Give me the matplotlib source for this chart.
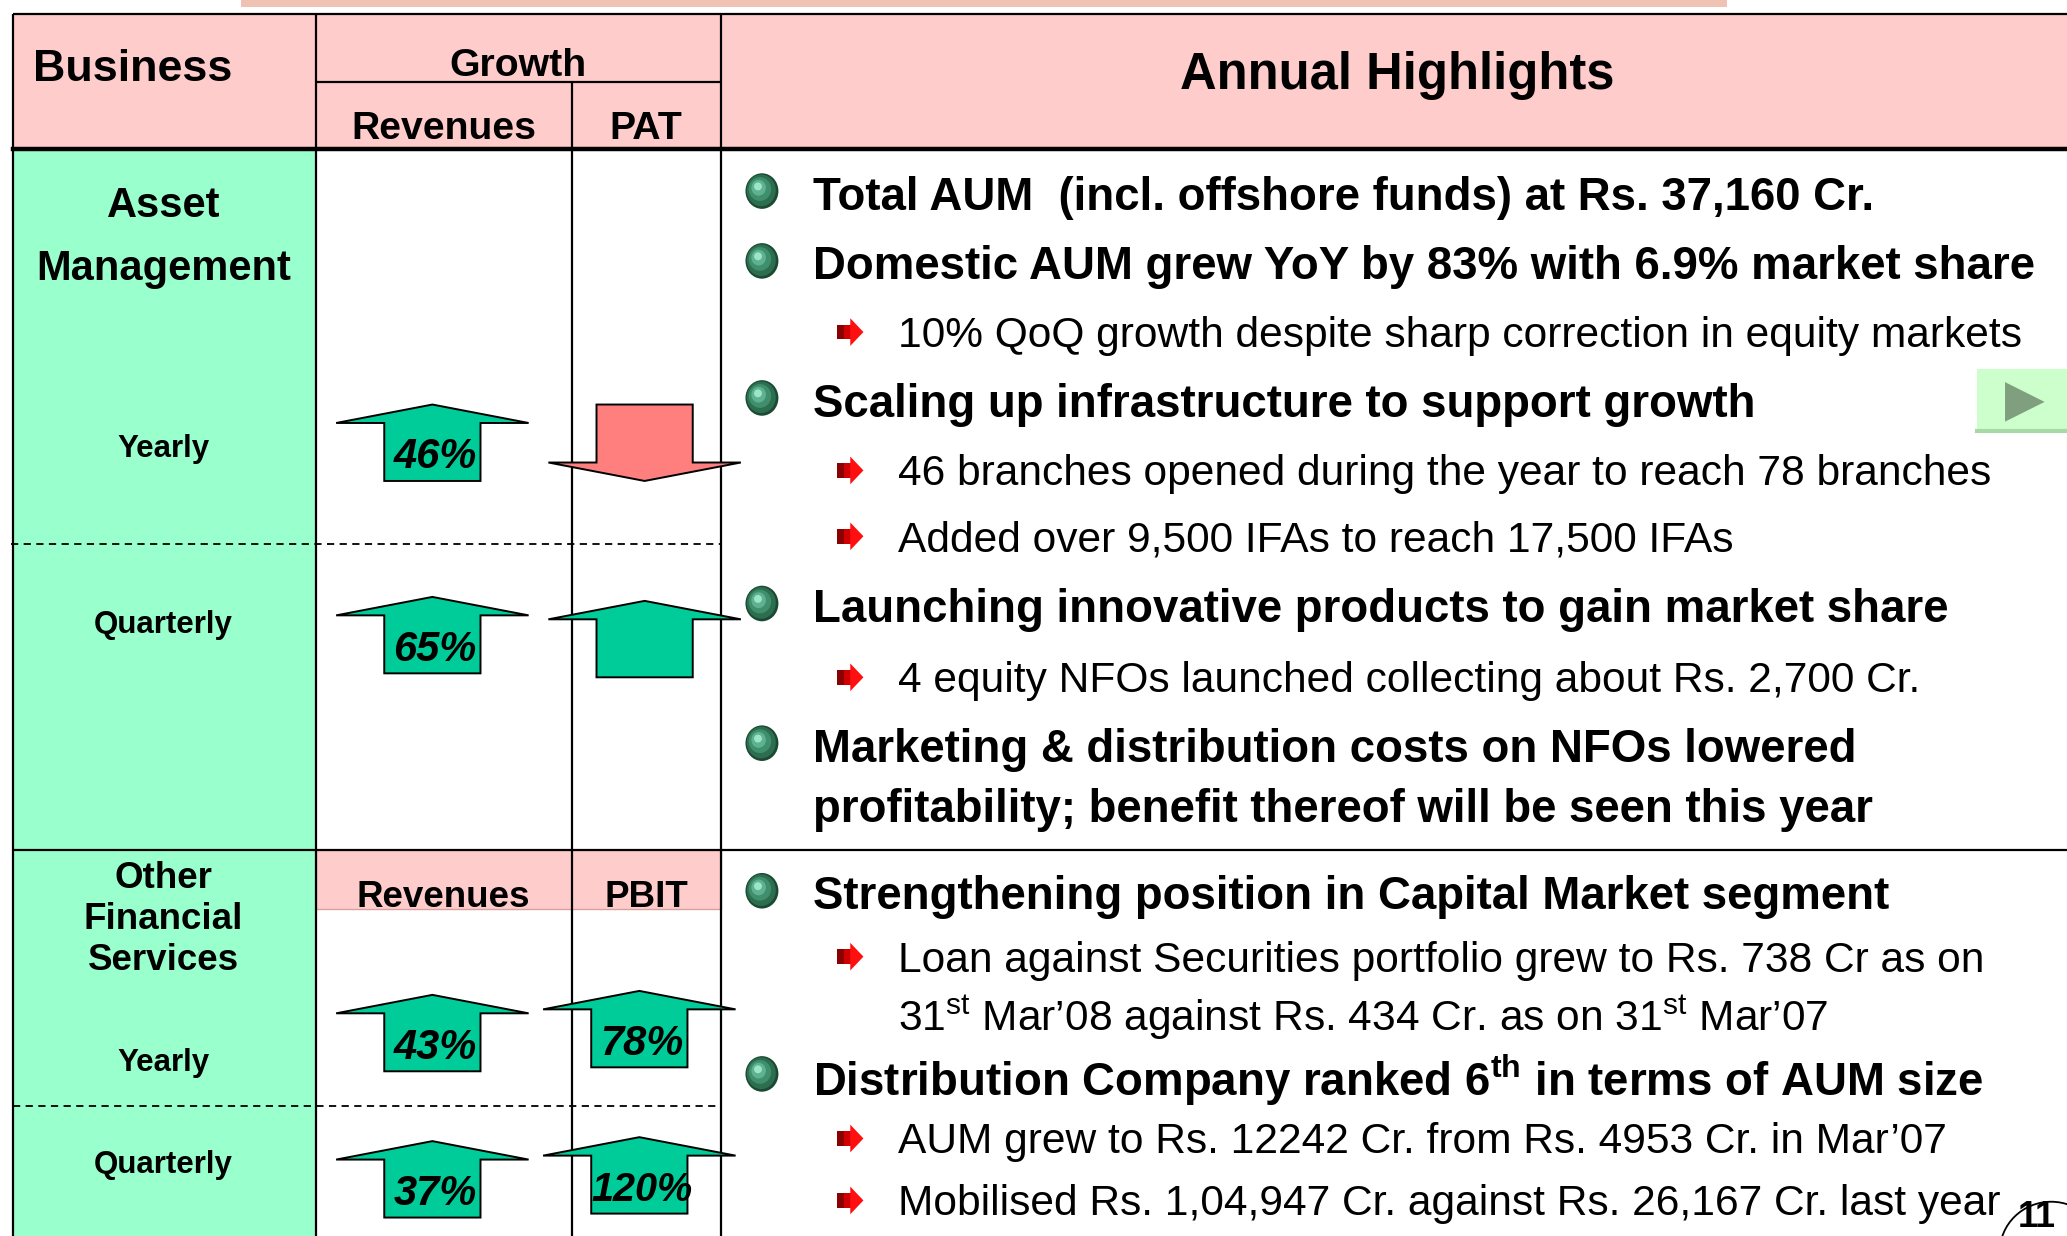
import matplotlib
matplotlib.use("Agg")
import matplotlib.pyplot as plt
from matplotlib.patches import Rectangle, Polygon, Ellipse

plt.rcParams['font.family'] = ['Liberation Sans', 'DejaVu Sans']
plt.rcParams['mathtext.fontset'] = 'custom'
plt.rcParams['mathtext.rm'] = 'Liberation Sans'
plt.rcParams['mathtext.bf'] = 'Liberation Sans:bold'
plt.rcParams['mathtext.it'] = 'Liberation Sans:italic'

# ---------------- data ----------------
segments = ["Asset\nManagement", "Other\nFinancial\nServices"]
periods = ["Yearly", "Quarterly"]
growth_headers = ["Revenues", "PAT"]
ofs_headers = ["Revenues", "PBIT"]
revenue_growth = ["46%", "65%", "43%", "37%"]
profit_growth = ["", "", "78%", "120%"]
profit_up = [False, True, True, True]

highlight_kind = ["b", "b", "s", "b", "s", "s", "b", "s", "b", "bc",
                  "b", "s", "sc", "b", "s", "s"]
highlight_text = [
    "Total AUM  (incl. offshore funds) at Rs. 37,160 Cr.",
    "Domestic AUM grew YoY by 83% with 6.9% market share",
    "10% QoQ growth despite sharp correction in equity markets",
    "Scaling up infrastructure to support growth",
    "46 branches opened during the year to reach 78 branches",
    "Added over 9,500 IFAs to reach 17,500 IFAs",
    "Launching innovative products to gain market share",
    "4 equity NFOs launched collecting about Rs. 2,700 Cr.",
    "Marketing & distribution costs on NFOs lowered",
    "profitability; benefit thereof will be seen this year",
    "Strengthening position in Capital Market segment",
    "Loan against Securities portfolio grew to Rs. 738 Cr as on",
    r"31$^{\mathrm{st}}$ Mar’08 against Rs. 434 Cr. as on 31$^{\mathrm{st}}$ Mar’07",
    r"Distribution Company ranked 6$^{\mathbf{th}}$ in terms of AUM size",
    "AUM grew to Rs. 12242 Cr. from Rs. 4953 Cr. in Mar’07",
    "Mobilised Rs. 1,04,947 Cr. against Rs. 26,167 Cr. last year",
]
page_number = "11"

# ---------------- layout (canvas units: 1568 x 938) ----------------
W, H = 1568, 938
DY = 3  # vertical text offset
highlight_y = [147, 200, 252, 304, 357, 407, 460, 514, 566, 612,
               678, 726, 769, 817, 864, 911]

PINK = "#FFCCCC"
GREEN_COL = "#99FFCC"
ARROW_GREEN = "#00CC99"
ARROW_RED = "#FF7F7F"

fig = plt.figure(figsize=(20.67, 12.36), dpi=100)
ax = fig.add_axes([0, 0, 1, 1])
ax.set_xlim(0, W)
ax.set_ylim(H, 0)
ax.axis("off")

# top decorative band
ax.add_patch(Rectangle((183, 0), 1127, 5, color="#EFC2B4", lw=0))

# header background
ax.add_patch(Rectangle((10, 11), W - 10, 102, color=PINK, lw=0))
# green business column
ax.add_patch(Rectangle((10, 113), 230, H - 113, color=GREEN_COL, lw=0))
# OFS sub-header
ax.add_patch(Rectangle((240, 645), 307, 45, facecolor=PINK, edgecolor="#D9A0A0", lw=1))

# grid lines
lk = dict(color="black", lw=1.6, solid_capstyle="butt")
ax.plot([10, W], [11, 11], **lk)
ax.plot([10, 10], [11, H], **lk)
ax.plot([240, 240], [11, H], **lk)
ax.plot([547, 547], [11, H], **lk)
ax.plot([434, 434], [62, H], **lk)
ax.plot([240, 547], [62, 62], **lk)
ax.plot([10, W], [113, 113], color="black", lw=3.2)
ax.plot([10, W], [645, 645], **lk)
ax.plot([8, 547], [413, 413], color="black", lw=1.3, ls=(0, (4, 3)))
ax.plot([10, 547], [839, 839], color="black", lw=1.3, ls=(0, (4, 3)))

# header texts
ax.text(25, 50 + DY, "Business", fontsize=32.3, fontweight="bold", ha="left", va="center")
ax.text(393, 47 + DY, "Growth", fontsize=28.3, fontweight="bold", ha="center", va="center")
ax.text(337, 95 + DY, growth_headers[0], fontsize=28.3, fontweight="bold", ha="center", va="center")
ax.text(490, 95 + DY, growth_headers[1], fontsize=28.3, fontweight="bold", ha="center", va="center")
ax.text(1060, 54 + DY, "Annual Highlights", fontsize=36.5, fontweight="bold", ha="center", va="center")
ax.text(336, 678 + DY, ofs_headers[0], fontsize=26.5, fontweight="bold", ha="center", va="center")
ax.text(490, 678 + DY, ofs_headers[1], fontsize=26.5, fontweight="bold", ha="center", va="center")

# segment labels
ax.text(124, 177 + DY, segments[0], fontsize=30, fontweight="bold", ha="center", va="center",
        linespacing=1.73)
ax.text(124, 695 + DY, segments[1], fontsize=26.5, fontweight="bold", ha="center", va="center",
        linespacing=1.22)
period_y = [338, 471, 804, 881]
for i, py in enumerate(period_y):
    ax.text(124, py + DY, periods[i % 2], fontsize=22.5, fontweight="bold", ha="center", va="center")


def arrow(cx, tip, up, color, label):
    hw, hh, sw, length = 73, 14, 36.5, 58
    if up:
        base = tip + hh
        bottom = tip + length
        pts = [(cx, tip), (cx + hw, base), (cx + sw, base), (cx + sw, bottom),
               (cx - sw, bottom), (cx - sw, base), (cx - hw, base)]
        ty = (base + bottom) / 2 + 1
    else:
        top = tip - length
        base = tip - hh
        pts = [(cx, tip), (cx + hw, base), (cx + sw, base), (cx + sw, top),
               (cx - sw, top), (cx - sw, base), (cx - hw, base)]
        ty = (top + base) / 2
    ax.add_patch(Polygon(pts, closed=True, facecolor=color, edgecolor="black", lw=1.4,
                         joinstyle="miter", zorder=3))
    if label:
        ax.text(cx + 2, ty + DY, label, fontsize=30 if len(label) < 4 else 28.5,
                fontweight="bold", style="italic", ha="center", va="center", zorder=4)


rev_tips = [307, 453, 755, 866]
prof_tips = [365, 456, 752, 863]
prof_cx = [489, 489, 485, 485]
for i in range(4):
    arrow(328, rev_tips[i], True, ARROW_GREEN, revenue_growth[i])
    arrow(prof_cx[i], prof_tips[i], profit_up[i],
          ARROW_GREEN if profit_up[i] else ARROW_RED, profit_growth[i])


def sphere(cx, cy):
    layers = [(25, 27, "#1B4A33", 0, 0), (22, 24, "#2C6E4F", -0.5, -0.5),
              (17, 18, "#3F8E6C", -1.5, -1.5), (11, 12, "#5FB291", -2.5, -2.5),
              (6, 6, "#9CE6C8", -3, -3.5)]
    for w, h, c, dx, dy in layers:
        ax.add_patch(Ellipse((cx + dx, cy + dy), w, h, color=c, lw=0, zorder=3))


def red_arrow(x0, cy):
    ax.add_patch(Rectangle((x0, cy - 5.5), 6, 11, color="#8B0000", lw=0, zorder=3))
    ax.add_patch(Rectangle((x0 + 5, cy - 5.5), 6, 11, color="#D00000", lw=0, zorder=3))
    ax.add_patch(Polygon([(x0 + 10, cy - 10.5), (x0 + 20, cy), (x0 + 10, cy + 10.5)],
                         closed=True, color="#FF1010", lw=0, zorder=3))


for kind, txt, y in zip(highlight_kind, highlight_text, highlight_y):
    if kind == "b":
        sphere(578, y - 2)
    if kind == "s":
        red_arrow(635, y)
    if kind.startswith("b"):
        ax.text(617, y + DY, txt, fontsize=32.9, fontweight="bold", ha="left", va="center")
    else:
        ax.text(681, y + DY, txt, fontsize=30.6, ha="left", va="center")

# navigation button
ax.add_patch(Rectangle((1500, 280), 68, 47, color="#CCFFCC", lw=0))
ax.plot([1500, W], [327, 327], color="#A8D8A8", lw=3)
ax.add_patch(Polygon([(1521, 290), (1521, 320), (1551, 305)], closed=True,
                     color="#7F9F7F", lw=0))

# page number
ax.add_patch(Ellipse((1556, 950), 78, 76, facecolor="white", edgecolor="black", lw=1.3, zorder=5))
ax.text(1545, 937, page_number, fontsize=26, fontweight="bold", ha="center", va="bottom", zorder=6)

fig.savefig("out.png", dpi=100)
